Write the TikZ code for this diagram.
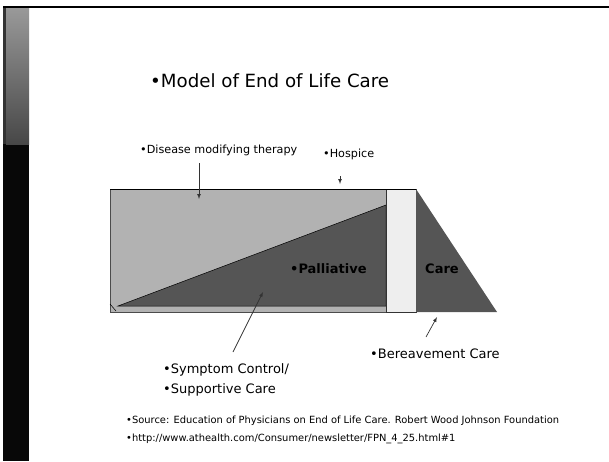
\documentclass[tikz,border=0pt]{standalone}
\usepackage{fontspec}
\setmainfont{DejaVu Sans}
\usetikzlibrary{positioning}
\definecolor{therapygray}{HTML}{B2B2B2}
\definecolor{careshade}{HTML}{555555}
\definecolor{hospicegray}{HTML}{EEEEEE}
\tikzset{
	txt/.style={anchor=base west, inner sep=0pt, font=\fontsize{13}{15}\selectfont},
	toptxt/.style={txt, font=\fontsize{11.2}{13}\selectfont},
	boldtxt/.style={txt, font=\fontsize{13}{15}\selectfont\bfseries},
	srctxt/.style={txt, font=\fontsize{9.9}{12}\selectfont},
	pointer/.style={->, >=latex, black!80, line width=0.7pt},
}
\begin{document}
\begin{tikzpicture}[x=1pt, y=-1pt]
			\useasboundingbox (0,0) rectangle (609,461);
			
			% side bar and top rule
			\fill[black!97] (3,144) rectangle (29,461);
			\shade[top color=black!40, bottom color=black!72] (6,8) rectangle (29,144);
			\fill[black!80] (3,6) rectangle (6,144);
			\fill[black] (3,6) rectangle (609,8);
			
			% the model
			\fill[therapygray, draw=black!70, line width=0.6pt] (110,189) rectangle (386,312);
			\filldraw[careshade, draw=black, line width=0.5pt] (118,306) -- (386,205) -- (386,306) -- cycle;
			\draw[black, line width=0.5pt] (110,304) -- (116,311);
			\filldraw[fill=hospicegray, draw=black!80, line width=0.6pt] (386,189) rectangle (416,312);
			\fill[careshade] (416,189) -- (497,312) -- (416,312) -- cycle;
			\draw[black, line width=0.8pt] (110,189) -- (416,189);
			
			\node (ttl) [txt, font=\fontsize{18.2}{22}\selectfont] at (150,87) {•Model of End of Life Care};
			
			\node (dmt) [toptxt] at (140,153) {•Disease modifying therapy};
			\node (hos) [toptxt] at (323,157) {•Hospice};
			\node (pal) [boldtxt] at (290,273) {•Palliative};
			\node (car) [boldtxt] at (425,273) {Care};
			\node (ber) [txt] at (370,358) {•Bereavement Care};
			\node (sym) [txt] at (163,373) {•Symptom Control/};
			\node (sup) [txt] at (163,393) {•Supportive Care};
			
			\node (src) [srctxt] at (126,423) {•Source: Education of Physicians on End of Life Care. Robert Wood Johnson Foundation};
			\node (url) [srctxt] at (126,441) {•http://www.athealth.com/Consumer/newsletter/FPN\_4\_25.html\#1};
			
			\coordinate (dmt0) at (199,163);
			\coordinate (dmt1) at (199,199);
			\coordinate (hos0) at (340,176);
			\coordinate (hos1) at (340,184);
			\coordinate (sym0) at (233,352);
			\coordinate (sym1) at (263,292);
			\coordinate (ber0) at (426,337);
			\coordinate (ber1) at (437,317);
			
			\begin{scope}[pointer]
				\draw (dmt0) -- (dmt1);
				\draw (hos0) -- (hos1);
				\draw (sym0) -- (sym1);
				\draw (ber0) -- (ber1);
			\end{scope}
			
\end{tikzpicture}
\end{document}
